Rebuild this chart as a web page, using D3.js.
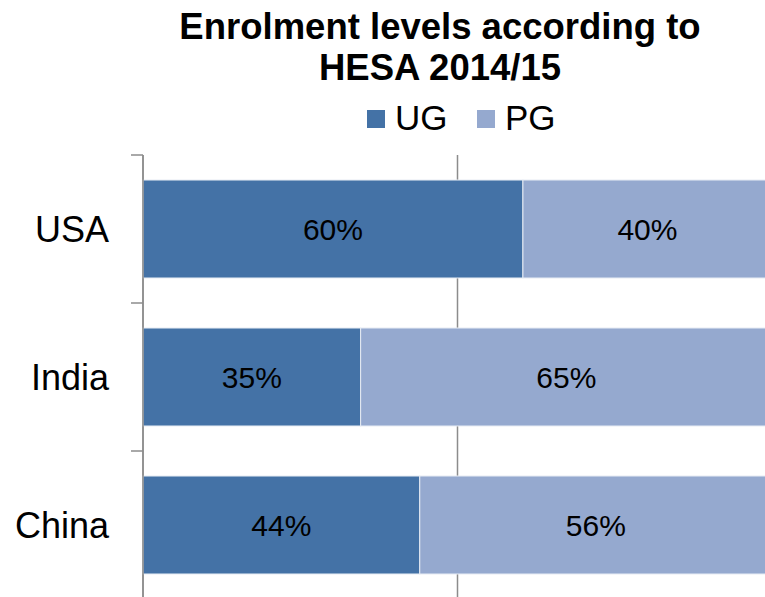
<!DOCTYPE html>
<html>
<head>
<meta charset="utf-8">
<script src="https://cdn.jsdelivr.net/npm/d3@7"></script>
<style>
  body { margin: 0; background: #fff; }
  text { font-family: "Liberation Sans", Arial, sans-serif; }
</style>
</head>
<body>
<div id="chart"></div>
<script>
let countries = ["USA", "India", "China"]
let ug = [60.4, 34.6, 44.0]
let pg = [39.6, 65.4, 56.0]
let seriesNames = ["UG", "PG"]
let colors = ["#4472a6", "#95a9cf"]
let gridTicks = [0, 50, 100]

let width = 765, height = 597

let svg = d3.select("#chart")
    .append("svg")
    .attr("width", width)
    .attr("height", height)

let x = d3.scaleLinear().domain([0, 100]).range([143, 772])
let y = d3.scaleBand().domain(countries).range([155, 599])
    .paddingInner(0.338).paddingOuter(0.169)

// title
svg.append("text")
    .attr("x", 440).attr("y", 39)
    .attr("text-anchor", "middle")
    .style("font-size", "36.5px").style("font-weight", "bold")
    .text("Enrolment levels according to")
svg.append("text")
    .attr("x", 440).attr("y", 80)
    .attr("text-anchor", "middle")
    .style("font-size", "36.5px").style("font-weight", "bold")
    .text("HESA 2014/15")

// legend
let legendX = [367, 477]
let leg = svg.append("g").selectAll("g")
    .data(seriesNames)
    .enter().append("g")
leg.append("rect")
    .attr("x", (d, i) => legendX[i]).attr("y", 110)
    .attr("width", 18).attr("height", 18)
    .style("fill", (d, i) => colors[i])
leg.append("text")
    .attr("x", (d, i) => legendX[i] + 28).attr("y", 130)
    .style("font-size", "35px")
    .text(d => d)

// gridlines
svg.append("g").selectAll("line")
    .data(gridTicks)
    .enter().append("line")
    .attr("x1", d => x(d)).attr("x2", d => x(d))
    .attr("y1", 155).attr("y2", 599)
    .style("stroke", "#8c8c8c").style("stroke-width", 1.5)

// bars
let stacked = countries.map((c, i) => [
    {country: c, s: 0, x0: 0, x1: ug[i], v: ug[i]},
    {country: c, s: 1, x0: ug[i], x1: ug[i] + pg[i], v: pg[i]}
]).flat()

svg.append("g").selectAll("rect")
    .data(stacked)
    .enter().append("rect")
    .attr("x", d => x(d.x0))
    .attr("y", d => y(d.country))
    .attr("width", d => x(d.x1) - x(d.x0))
    .attr("height", y.bandwidth())
    .style("fill", d => colors[d.s])
    .style("stroke", "#e6ebf3").style("stroke-width", 1)

svg.append("g").selectAll("text")
    .data(stacked)
    .enter().append("text")
    .attr("x", d => (x(d.x0) + x(d.x1)) / 2)
    .attr("y", d => y(d.country) + y.bandwidth() / 2 + 11)
    .attr("text-anchor", "middle")
    .style("font-size", "30px")
    .text(d => Math.round(d.v) + "%")

// category axis
let axis = svg.append("g")
axis.append("line")
    .attr("x1", 143).attr("x2", 143)
    .attr("y1", 155).attr("y2", 599)
    .style("stroke", "#8c8c8c").style("stroke-width", 1.5)
let bounds = countries.map(c => y(c) - y.step() * y.paddingInner() / 2)
bounds.push(599)
axis.selectAll(".tick")
    .data(bounds)
    .enter().append("line")
    .attr("x1", 131).attr("x2", 143)
    .attr("y1", d => d).attr("y2", d => d)
    .style("stroke", "#8c8c8c").style("stroke-width", 1.5)
axis.selectAll(".cat")
    .data(countries)
    .enter().append("text")
    .attr("x", 109)
    .attr("y", d => y(d) + y.bandwidth() / 2 + 13)
    .attr("text-anchor", "end")
    .style("font-size", "36px")
    .text(d => d)
</script>
</body>
</html>
